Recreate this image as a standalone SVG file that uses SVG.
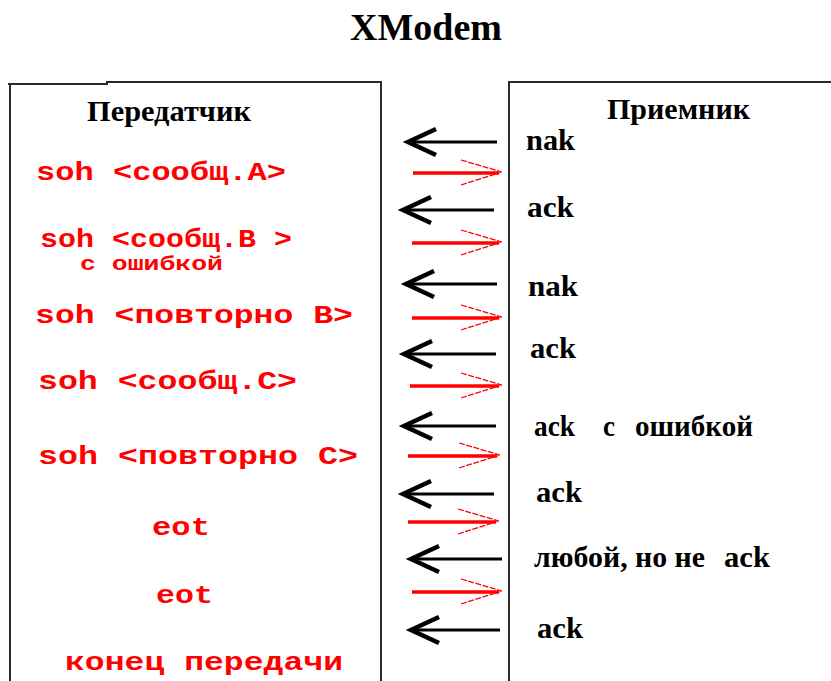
<svg xmlns="http://www.w3.org/2000/svg" width="831" height="681" viewBox="0 0 831 681">
  <style>
    .frame { fill: none; stroke: #2a2a2a; stroke-width: 2; }
    .head { font-family: "Liberation Serif", "Times New Roman", serif; font-weight: bold; fill: #000; }
    .msg { font-family: "Liberation Mono", "Courier New", monospace; font-weight: bold; fill: #ff0000; font-size: 26px; }
    .msg-small { font-family: "Liberation Mono", "Courier New", monospace; font-weight: bold; fill: #ff0000; font-size: 21px; }
    .reply { font-family: "Liberation Serif", "Times New Roman", serif; font-weight: bold; fill: #000; font-size: 29px; }
    .back { stroke: #000; stroke-width: 3; fill: none; marker-end: url(#headBack); }
    .fwd { stroke: #ff0000; stroke-width: 3.5; fill: none; marker-end: url(#headFwd); }
  </style>
  <defs>
    <marker id="headBack" markerUnits="userSpaceOnUse" markerWidth="60" markerHeight="40" refX="0" refY="0" orient="auto" overflow="visible">
      <path d="M -29 -13 L -1 0 L -29 13" fill="none" stroke="#000" stroke-width="4.5" stroke-linejoin="miter"/>
    </marker>
    <marker id="headFwd" markerUnits="userSpaceOnUse" markerWidth="60" markerHeight="40" refX="0" refY="0" orient="auto" overflow="visible">
      <path d="M -38 -13 L 3 -1 M -38 12 L 3 -1" fill="none" stroke="#ff0000" stroke-width="1.3" stroke-dasharray="6 1.5"/>
    </marker>
  </defs>
  <rect width="831" height="681" fill="#fff"/>

  <text class="head" x="350" y="40" font-size="38" textLength="152" lengthAdjust="spacingAndGlyphs">XModem</text>

  <g id="sender">
    <path class="frame" d="M 8 84 H 107 V 82 H 381 V 681"/>
    <path class="frame" d="M 10 84 V 681"/>
    <text class="head" x="87" y="121" font-size="29" textLength="164" lengthAdjust="spacingAndGlyphs">Передатчик</text>
    <text class="msg" x="36" y="180" textLength="250" lengthAdjust="spacingAndGlyphs">soh &lt;сообщ.А&gt;</text>
    <text class="msg" x="40" y="247" textLength="252" lengthAdjust="spacingAndGlyphs">soh &lt;сообщ.В &gt;</text>
    <text class="msg-small" x="80" y="270" textLength="143" lengthAdjust="spacingAndGlyphs">с ошибкой</text>
    <text class="msg" x="35" y="323" textLength="318" lengthAdjust="spacingAndGlyphs">soh &lt;повторно В&gt;</text>
    <text class="msg" x="38" y="389" textLength="259" lengthAdjust="spacingAndGlyphs">soh &lt;сообщ.С&gt;</text>
    <text class="msg" x="38" y="464" textLength="320" lengthAdjust="spacingAndGlyphs">soh &lt;повторно С&gt;</text>
    <text class="msg" x="152" y="535" textLength="58" lengthAdjust="spacingAndGlyphs">eot</text>
    <text class="msg" x="156" y="603" textLength="57" lengthAdjust="spacingAndGlyphs">eot</text>
    <text class="msg" x="65" y="670" textLength="278" lengthAdjust="spacingAndGlyphs">конец передачи</text>
  </g>

  <g id="receiver">
    <path class="frame" d="M 831 82 H 509 V 681"/>
    <text class="head" x="607" y="119" font-size="29" textLength="143" lengthAdjust="spacingAndGlyphs">Приемник</text>
    <text class="reply" x="526" y="150" textLength="49" lengthAdjust="spacingAndGlyphs">nak</text>
    <text class="reply" x="527" y="217" textLength="47" lengthAdjust="spacingAndGlyphs">ack</text>
    <text class="reply" x="528" y="296" textLength="50" lengthAdjust="spacingAndGlyphs">nak</text>
    <text class="reply" x="530" y="358" textLength="46" lengthAdjust="spacingAndGlyphs">ack</text>
    <text class="reply" y="436"><tspan x="534" textLength="41" lengthAdjust="spacingAndGlyphs">ack</tspan><tspan x="603" textLength="12" lengthAdjust="spacingAndGlyphs">с</tspan><tspan x="635" textLength="118" lengthAdjust="spacingAndGlyphs">ошибкой</tspan></text>
    <text class="reply" x="536" y="502" textLength="46" lengthAdjust="spacingAndGlyphs">ack</text>
    <text class="reply" y="567"><tspan x="534" textLength="171" lengthAdjust="spacingAndGlyphs">любой, но не</tspan><tspan x="724" textLength="46" lengthAdjust="spacingAndGlyphs">ack</tspan></text>
    <text class="reply" x="537" y="638" textLength="46" lengthAdjust="spacingAndGlyphs">ack</text>
  </g>

  <g id="connectors">
    <line class="back" x1="497" y1="142" x2="407" y2="142"/>
    <line class="fwd" x1="413" y1="173" x2="499" y2="173"/>
    <line class="back" x1="494" y1="210" x2="402" y2="210"/>
    <line class="fwd" x1="412" y1="243" x2="499" y2="243"/>
    <line class="back" x1="497" y1="284" x2="405" y2="284"/>
    <line class="fwd" x1="412" y1="318" x2="499" y2="318"/>
    <line class="back" x1="496" y1="354" x2="403" y2="354"/>
    <line class="fwd" x1="410" y1="386" x2="499" y2="386"/>
    <line class="back" x1="496" y1="426" x2="403" y2="426"/>
    <line class="fwd" x1="408" y1="456" x2="497" y2="456"/>
    <line class="back" x1="494" y1="494" x2="402" y2="494"/>
    <line class="fwd" x1="408" y1="522" x2="496" y2="522"/>
    <line class="back" x1="502" y1="559" x2="410" y2="559"/>
    <line class="fwd" x1="412" y1="592" x2="499" y2="592"/>
    <line class="back" x1="500" y1="630" x2="410" y2="630"/>
  </g>
</svg>
